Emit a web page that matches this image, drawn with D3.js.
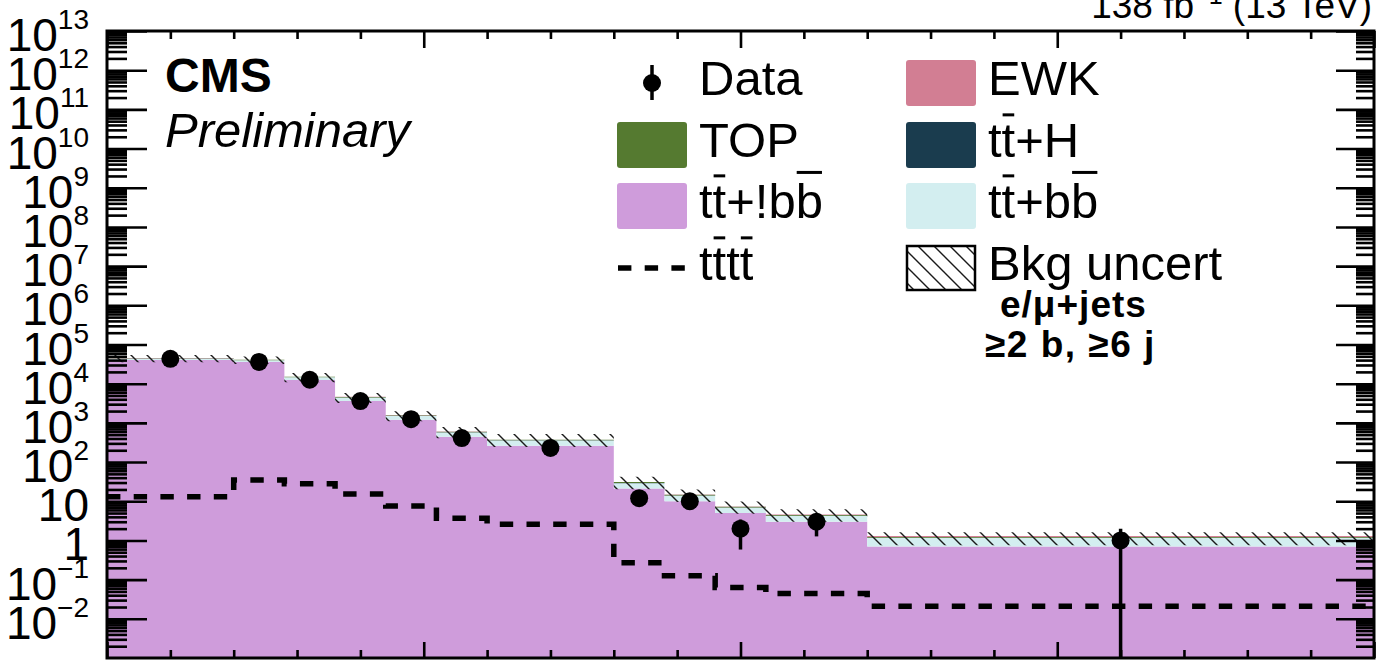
<!DOCTYPE html>
<html>
<head>
<meta charset="utf-8">
<script src="https://cdn.jsdelivr.net/npm/d3@7"></script>
<style>
body { margin: 0; background: #fff; }
svg { display: block; font-family: "Liberation Sans", Arial, sans-serif; }
</style>
</head>
<body>
<div id="plot"></div>
<script>
var width = 1376;
var height = 660;
var margin = {top: 31, right: 2, bottom: 2, left: 107};

// bin edges (arbitrary units, 20 minor divisions on the axis)
var binEdges = [0, 2, 2.8, 3.6, 4.4, 5.2, 6, 8, 8.8, 9.6, 10.4, 12, 20];

// stacked backgrounds, bottom to top
var ttNoBB = [40000, 36000, 12500, 3600, 1200, 440, 260, 21, 10, 5.0, 3.0, 0.70];
var ttBB   = [3500, 3600, 2000, 800, 300, 130, 95, 8, 3.8, 1.8, 1.2, 0.45];
var ttH    = [150, 150, 80, 30, 12, 5, 3, 0.3, 0.15, 0.08, 0.05, 0.02];
var topBkg = [1200, 1000, 400, 150, 50, 20, 12, 1.5, 0.7, 0.35, 0.2, 0.06];
var ewk    = [300, 250, 100, 40, 15, 5, 3, 0.3, 0.15, 0.1, 0.15, 0.06];

// relative background uncertainty (up / down)
var uncUp = [0.20, 0.20, 0.25, 0.25, 0.25, 0.30, 0.40, 0.35, 0.35, 0.35, 0.35, 0.25];
var uncDn = [0.22, 0.22, 0.28, 0.30, 0.30, 0.32, 0.35, 0.35, 0.35, 0.35, 0.35, 0.42];

var dataCounts = [43000, 36000, 12600, 3600, 1240, 410, 230, 12, 10, 2, 3, 1];
var tttt = [13, 35, 28, 15.4, 7.6, 3.7, 2.6, 0.27, 0.125, 0.063, 0.044, 0.021];

var yTickPowers = d3.range(-2, 14);
var xMajorTicks = [0, 5, 10, 15, 20];

var keys = ["ttNoBB", "ttBB", "ttH", "topBkg", "ewk"];
var colors = {ttNoBB: "#cf9cdb", ttBB: "#d3eef0", ttH: "#1a3c4e", topBkg: "#557a30", ewk: "#d27e93"};

var svg = d3.select("#plot").append("svg")
    .attr("width", width)
    .attr("height", height);

var x = d3.scaleLinear().domain([0, 20]).range([margin.left, width - margin.right]);
var y = d3.scaleLog().domain([1e-3, 1e13]).range([height - margin.bottom, margin.top]).clamp(true);
var yBottom = height - margin.bottom;
function yv(v) { return v > 0 ? y(v) : yBottom; }

// hatch pattern for the uncertainty band
var defs = svg.append("defs");
defs.append("pattern")
    .attr("id", "hatch")
    .attr("patternUnits", "userSpaceOnUse")
    .attr("width", 16).attr("height", 16)
  .append("path")
    .attr("d", "M-4,-4 L20,20 M-4,12 L4,20 M12,-4 L20,4")
    .attr("stroke", "#1a1a1a")
    .attr("stroke-width", 1.4);
defs.append("clipPath").attr("id", "frame")
  .append("rect")
    .attr("x", margin.left).attr("y", margin.top)
    .attr("width", width - margin.right - margin.left)
    .attr("height", yBottom - margin.top);

// rows per bin, plus a closing row so the last step reaches the right edge
var rows = binEdges.map(function(e, i) {
    var j = Math.min(i, ttNoBB.length - 1);
    return {x: e, ttNoBB: ttNoBB[j], ttBB: ttBB[j], ttH: ttH[j], topBkg: topBkg[j], ewk: ewk[j],
            up: uncUp[j], dn: uncDn[j], sig: tttt[j]};
});
var stacked = d3.stack().keys(keys)(rows);

var plot = svg.append("g").attr("clip-path", "url(#frame)");

var area = d3.area()
    .x(function(d) { return x(d.data.x); })
    .y0(function(d) { return yv(d[0]); })
    .y1(function(d) { return yv(d[1]); })
    .curve(d3.curveStepAfter);

plot.selectAll("path.bkg")
    .data(stacked)
    .enter()
    .append("path")
    .attr("class", "bkg")
    .attr("d", area)
    .attr("fill", function(s) { return colors[s.key]; });

// total background uncertainty
var total = rows.map(function(r) { return r.ttNoBB + r.ttBB + r.ttH + r.topBkg + r.ewk; });
plot.append("path")
    .datum(rows)
    .attr("d", d3.area()
        .x(function(d) { return x(d.x); })
        .y0(function(d, i) { return yv(total[i] * (1 - d.dn)); })
        .y1(function(d, i) { return yv(total[i] * (1 + d.up)); })
        .curve(d3.curveStepAfter))
    .attr("fill", "url(#hatch)");

// tttt signal, dashed
plot.append("path")
    .datum(rows)
    .attr("d", d3.line()
        .x(function(d) { return x(d.x); })
        .y(function(d) { return y(d.sig); })
        .curve(d3.curveStepAfter))
    .attr("fill", "none")
    .attr("stroke", "#000")
    .attr("stroke-width", 5.5)
    .attr("stroke-dasharray", "13.4,13.3");

// axes: ticks drawn inward on all four sides
function tickAxis(axis, tx, ty) {
    var g = svg.append("g").attr("transform", "translate(" + tx + "," + ty + ")").call(axis);
    g.select(".domain").remove();
    g.selectAll("line").attr("stroke", "#000").attr("stroke-width", 2.6);
    g.selectAll("text").remove();
    return g;
}
var yMinor = [];
d3.range(-3, 13).forEach(function(p) {
    for (var k = 2; k <= 9; k++) yMinor.push(k * Math.pow(10, p));
});
var yMajor = yTickPowers.map(function(p) { return Math.pow(10, p); });
var xMinor = d3.range(0, 21).filter(function(v) { return v % 5 != 0; });
var xRight = width - margin.right;

tickAxis(d3.axisLeft(y).tickValues(yMajor).tickSize(-40), margin.left, 0);
tickAxis(d3.axisLeft(y).tickValues(yMinor).tickSize(-20), margin.left, 0);
tickAxis(d3.axisRight(y).tickValues(yMajor).tickSize(-38), xRight, 0);
tickAxis(d3.axisRight(y).tickValues(yMinor).tickSize(-18), xRight, 0);
tickAxis(d3.axisBottom(x).tickValues(xMajorTicks).tickSize(-16), 0, yBottom);
tickAxis(d3.axisBottom(x).tickValues(xMinor).tickSize(-8), 0, yBottom);
tickAxis(d3.axisTop(x).tickValues(xMajorTicks).tickSize(-17), 0, margin.top);
tickAxis(d3.axisTop(x).tickValues(xMinor).tickSize(-8), 0, margin.top);

svg.append("rect")
    .attr("x", margin.left).attr("y", margin.top)
    .attr("width", xRight - margin.left).attr("height", yBottom - margin.top)
    .attr("fill", "none").attr("stroke", "#000").attr("stroke-width", 3);

// y tick labels, 10 with superscript exponent
yTickPowers.forEach(function(p) {
    var ty = y(Math.pow(10, p));
    var t = svg.append("text")
        .attr("x", 89).attr("y", ty + 20)
        .attr("text-anchor", "end")
        .attr("font-size", 46);
    if (p == 0) { t.text("1"); return; }
    t.append("tspan").text("10");
    if (p == 1) return;
    t.append("tspan")
        .attr("dy", -22)
        .attr("font-size", 28)
        .text(p < 0 ? "\u2212" + (-p) : p);
});

// data points
var centers = dataCounts.map(function(d, i) { return (binEdges[i] + binEdges[i + 1]) / 2; });
svg.selectAll("line.err")
    .data(dataCounts)
    .enter()
    .append("line")
    .attr("class", "err")
    .attr("x1", function(d, i) { return x(centers[i]); })
    .attr("x2", function(d, i) { return x(centers[i]); })
    .attr("y1", function(d) { return yv(d + Math.sqrt(d)); })
    .attr("y2", function(d) { return yv(d - Math.sqrt(d)); })
    .attr("stroke", "#000")
    .attr("stroke-width", 3.5);
svg.selectAll("circle.dat")
    .data(dataCounts)
    .enter()
    .append("circle")
    .attr("class", "dat")
    .attr("cx", function(d, i) { return x(centers[i]); })
    .attr("cy", function(d) { return y(d); })
    .attr("r", 9)
    .attr("fill", "#000");

// text with overbars: a char followed by U+0304 gets a bar drawn above it
function barText(g, tx, ty, str, fs) {
    var chars = [], bars = [];
    Array.from(str).forEach(function(ch) {
        if (ch == "\u0304") bars[chars.length - 1] = true;
        else chars.push(ch);
    });
    var t = g.append("text").attr("x", tx).attr("y", ty).attr("font-size", fs).text(chars.join(""));
    bars.forEach(function(b, i) {
        if (!b) return;
        var e = t.node().getExtentOfChar(i);
        var lift = chars[i] == "b" ? 0.93 : 0.86;
        g.append("line")
            .attr("x1", e.x + 1).attr("x2", e.x + e.width - 1)
            .attr("y1", ty - lift * fs).attr("y2", ty - lift * fs)
            .attr("stroke", "#000").attr("stroke-width", 3);
    });
}

// legend
var legFont = 49;
var rowY = [83, 145, 206, 268];
var leg = svg.append("g");
var leftCol = [
    {label: "Data", kind: "data"},
    {label: "TOP", kind: "box", key: "topBkg"},
    {label: "tt\u0304+!bb\u0304", kind: "box", key: "ttNoBB"},
    {label: "tt\u0304tt\u0304", kind: "dash"}
];
var rightCol = [
    {label: "EWK", kind: "box", key: "ewk"},
    {label: "tt\u0304+H", kind: "box", key: "ttH"},
    {label: "tt\u0304+bb\u0304", kind: "box", key: "ttBB"},
    {label: "Bkg uncert", kind: "hatch"}
];
function legendEntry(e, bx, tx, cy) {
    if (e.kind == "box") {
        leg.append("rect").attr("x", bx).attr("y", cy - 23).attr("width", 70).attr("height", 46)
            .attr("rx", 3).attr("fill", colors[e.key]);
    } else if (e.kind == "hatch") {
        leg.append("rect").attr("x", bx + 1).attr("y", cy - 22).attr("width", 68).attr("height", 44)
            .attr("fill", "url(#hatch)").attr("stroke", "#000").attr("stroke-width", 2.5);
    } else if (e.kind == "data") {
        leg.append("line").attr("x1", bx + 35).attr("x2", bx + 35).attr("y1", cy - 18).attr("y2", cy + 17)
            .attr("stroke", "#000").attr("stroke-width", 3.5);
        leg.append("circle").attr("cx", bx + 35).attr("cy", cy).attr("r", 9).attr("fill", "#000");
    } else if (e.kind == "dash") {
        leg.append("line").attr("x1", bx + 1).attr("x2", bx + 70).attr("y1", cy).attr("y2", cy)
            .attr("stroke", "#000").attr("stroke-width", 5.5).attr("stroke-dasharray", "13.4,13.3");
    }
    barText(leg, tx, cy + 12, e.label, legFont);
}
leftCol.forEach(function(e, i) { legendEntry(e, 617, 699, rowY[i]); });
rightCol.forEach(function(e, i) { legendEntry(e, 906, 988, rowY[i]); });

// labels
svg.append("text").attr("x", 165).attr("y", 92).attr("font-size", 48).attr("font-weight", "bold").text("CMS");
svg.append("text").attr("x", 165).attr("y", 147).attr("font-size", 49).attr("font-style", "italic").text("Preliminary");
svg.append("text").attr("x", 1000).attr("y", 317).attr("font-size", 37).attr("letter-spacing", 1)
    .attr("font-weight", "bold").text("e/\u03bc+jets");
svg.append("text").attr("x", 985).attr("y", 357).attr("font-size", 37).attr("letter-spacing", 1.5)
    .attr("font-weight", "bold").text("\u22652 b, \u22656 j");

var lumi = svg.append("text").attr("x", 1372).attr("y", 18).attr("text-anchor", "end").attr("font-size", 37);
lumi.append("tspan").text("138 fb");
lumi.append("tspan").attr("dy", -14).attr("font-size", 25).text("\u22121");
lumi.append("tspan").attr("dy", 14).text(" (13 TeV)");
</script>
</body>
</html>
